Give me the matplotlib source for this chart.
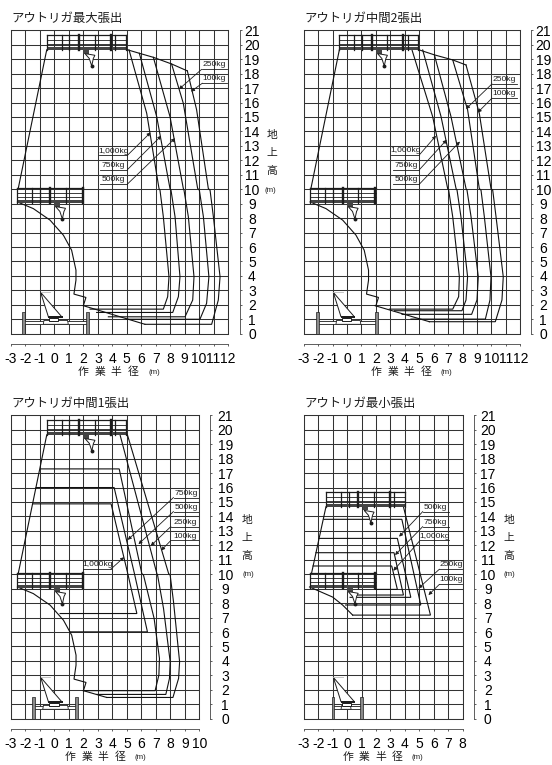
import matplotlib
matplotlib.use('Agg')
import matplotlib.pyplot as plt
from matplotlib.patches import Polygon, Rectangle

W, H = 552, 765
INK = '#1c1c1c'
GRID = '#333333'
CJK = ['Noto Sans CJK JP', 'DejaVu Sans']
plt.rcParams['font.family'] = ['Liberation Sans', 'DejaVu Sans']

TITLES = ['アウトリガ最大張出', 'アウトリガ中間2張出', 'アウトリガ中間1張出', 'アウトリガ最小張出']
X_MAX = [12, 12, 10, 8]
Y_MAX = 21
X_AXIS_LABEL = ['作', '業', '半', '径']
Y_AXIS_LABEL = ['地', '上', '高']
UNIT = '(m)'

# boundary shared by the boom positions
INNER_CURVE = [(-2.56, 9.12), (-1.46, 8.66), (-0.3, 7.86), (0.62, 6.82), (1.19, 5.78),
               (1.49, 4.4), (1.49, 3.71), (1.35, 2.74), (2.18, 2.51), (2.0, 1.94)]
INNER_CURVE_MIN = [(-2.6, 9.12), (-1.0, 8.42), (-0.3, 7.86), (0.39, 7.17)]

# panel 1: outrigger max
P1_LEFT = [(-0.53, 19.65), (-2.5, 10.05)]
P1_TOP = [(4.95, 19.68), (5.87, 19.41), (6.84, 19.13), (8.1, 18.67), (9.19, 18.19)]
P1_FLOOR = [(2.0, 1.94), (6.26, 0.65)]
P1_100 = [(9.19, 18.19), (9.83, 15.5), (10.64, 10.05), (10.76, 9.93), (10.99, 8.09), (11.45, 3.94),
          (11.33, 2.33), (10.87, 0.65), (6.26, 0.65)]
P1_250 = [(8.1, 18.67), (8.91, 15.95), (9.9, 10.06), (10.02, 9.93), (10.3, 8.09), (10.68, 3.94),
          (10.52, 2.1), (10.06, 1.0), (5.0, 1.0)]
P1_500 = [(6.84, 19.13), (7.99, 15.03), (8.91, 10.06), (8.96, 9.93), (9.26, 8.09), (9.65, 3.94),
          (9.56, 2.33), (9.03, 1.17), (3.73, 1.17)]
P1_750 = [(5.87, 19.41), (7.07, 15.03), (7.99, 10.05), (8.06, 9.93), (8.34, 8.09), (8.68, 3.94),
          (8.57, 2.56), (8.18, 1.47), (2.92, 1.47)]
P1_1000 = [(5.16, 19.64), (6.38, 15.26), (7.23, 10.05), (7.3, 9.93), (7.53, 8.09), (7.92, 3.94),
           (7.83, 2.56), (7.53, 1.7), (2.46, 1.7)]

# panel 2: outrigger middle 2
P2_LEFT = [(-0.53, 19.65), (-2.5, 10.05)]
P2_TOP = [(4.89, 19.68), (6.05, 19.3), (7.32, 18.95), (8.24, 18.6)]
P2_FLOOR = [(1.94, 1.94), (5.7, 0.83)]
P2_100 = [(8.24, 18.6), (9.16, 15.26), (9.97, 10.05), (10.09, 9.93), (10.32, 8.09), (10.82, 3.94),
          (10.73, 2.33), (10.27, 0.83), (5.7, 0.83)]
P2_250 = [(7.32, 18.95), (8.35, 15.5), (9.16, 10.05), (9.28, 9.93), (9.51, 8.09), (9.97, 3.94),
          (9.9, 2.33), (9.58, 1.01), (4.43, 1.01)]
P2_500 = [(6.05, 19.3), (7.2, 15.03), (8.24, 10.05), (8.31, 9.93), (8.59, 8.09), (9.09, 3.94),
          (9.0, 2.33), (8.63, 1.34), (3.81, 1.34)]
P2_750 = [(5.24, 19.64), (6.51, 15.03), (7.55, 10.05), (7.62, 9.93), (7.89, 8.09), (8.35, 3.94),
          (8.24, 2.33), (7.96, 1.59), (3.28, 1.59)]
P2_1000 = [(4.5, 19.64), (5.93, 15.03), (6.97, 10.05), (7.04, 9.93), (7.32, 8.09), (7.78, 3.94),
           (7.73, 2.56), (7.32, 1.7), (2.93, 1.7)]

# panel 3: outrigger middle 1
P3_LEFT = [(-0.53, 19.65), (-2.5, 10.05)]
P3_FLOOR = [(2.0, 1.94), (3.61, 1.47)]
P3_100 = [(5.04, 19.64), (7.88, 10.05), (7.99, 9.93), (8.22, 8.09), (8.64, 3.94), (8.57, 2.79),
          (8.18, 1.47), (3.61, 1.47)]
P3_250 = [(4.53, 19.64), (7.07, 10.05), (7.12, 9.93), (7.53, 7.63), (7.99, 3.94), (7.94, 2.79),
          (7.69, 1.68), (2.92, 1.68)]
P3_500 = [(-0.95, 17.29), (4.47, 17.29), (6.03, 10.05), (6.15, 9.93), (6.88, 6.94), (7.25, 4.17),
          (7.21, 3.02), (6.95, 1.94), (2.0, 1.94)]
P3_750 = [(-1.27, 16.0), (4.12, 16.0), (5.52, 10.05), (6.42, 6.01), (1.08, 6.01)]
P3_1000 = [(-1.46, 14.87), (3.91, 14.87), (5.06, 10.05), (5.69, 7.28), (0.39, 7.28)]

# panel 4: outrigger min
P4_LEFT = [(-1.46, 14.67), (-2.45, 10.1)]
P4_100 = [(3.9, 14.67), (5.77, 7.17), (0.39, 7.17)]
P4_250 = [(-1.6, 13.8), (3.79, 13.8), (5.1, 7.87), (-0.1, 7.87)]
P4_500 = [(-1.95, 12.48), (3.48, 12.48), (4.41, 8.4), (0.21, 8.4)]
P4_750 = [(-2.15, 11.49), (3.25, 11.49), (3.9, 8.56), (0.55, 8.56)]
P4_1000 = [(-2.35, 10.57), (3.09, 10.57), (3.48, 8.95), (1.96, 8.95)]

CURVES = [
    [INNER_CURVE, P1_LEFT, P1_TOP, P1_FLOOR, P1_100, P1_250, P1_500, P1_750, P1_1000],
    [INNER_CURVE, P2_LEFT, P2_TOP, P2_FLOOR, P2_100, P2_250, P2_500, P2_750, P2_1000],
    [INNER_CURVE, P3_LEFT, P3_FLOOR, P3_100, P3_250, P3_500, P3_750, P3_1000],
    [INNER_CURVE_MIN, P4_LEFT, P4_100, P4_250, P4_500, P4_750, P4_1000],
]

# load callouts: text, underline x0, x1, y, arrow tip x, y
CALLOUTS = [
    [('250kg', 10.18, 11.91, 18.3, 8.61, 16.92), ('100kg', 10.23, 11.91, 17.34, 9.44, 16.76),
     ('1,000kg', 3.08, 5.04, 12.34, 6.65, 13.93), ('750kg', 3.15, 5.04, 11.35, 7.39, 13.7),
     ('500kg', 3.15, 5.04, 10.35, 8.34, 13.53)],
    [('250kg', 10.04, 11.75, 17.29, 8.24, 15.56), ('100kg', 10.04, 11.75, 16.3, 9.05, 15.31),
     ('1,000kg', 3.05, 5.01, 12.38, 6.16, 13.7), ('750kg', 3.16, 5.01, 11.35, 6.9, 13.42),
     ('500kg', 3.16, 5.01, 10.35, 7.82, 13.3)],
    [('750kg', 8.22, 10.0, 15.31, 5.06, 12.38), ('500kg', 8.22, 10.0, 14.34, 5.8, 12.08),
     ('250kg', 8.04, 10.0, 13.3, 6.65, 11.97), ('100kg', 8.04, 10.0, 12.34, 7.37, 11.65),
     ('1,000kg', 2.0, 3.89, 10.35, 4.81, 11.18)],
    [('500kg', 5.24, 7.02, 14.34, 3.6, 12.6), ('750kg', 5.24, 7.02, 13.3, 3.32, 11.33),
     ('1,000kg', 5.05, 7.02, 12.34, 3.2, 10.24), ('250kg', 6.39, 7.96, 10.35, 4.94, 9.02),
     ('100kg', 6.39, 7.96, 9.3, 5.63, 8.56)],
]

# machine drawn under each chart
OUTRIGGER_X = [(-2.15, 2.27), (-2.05, 2.05), (-1.46, 1.54), (-0.97, 0.99)]
CARRIER_X = [(-0.77, 0.96), (-0.77, 0.96), (-0.81, 0.96), (-0.42, 0.28)]
UPPER_BASKET = [(-0.53, 19.64), (-0.53, 19.64), (-0.53, 19.64), (-1.46, 14.67)]
LOWER_BASKET = (-2.56, 9.05)
POSTS_FULL = [0, 1.04, 1.56, 3.33, 4.72, 5.48]
POSTS_FULL_HEAVY = [2.25, 4.44]
POSTS_SHORT = [0, 1.04, 1.56, 3.33]
POSTS_SHORT_HEAVY = [2.25, 4.52]
HOOK = [(2.64, -0.25), (3.33, -0.37), (3.22, -0.59), (3.11, -1.11), (2.94, -0.59)]
BOOM = [(-0.95, 2.86), (-0.42, 1.18), (0.5, 1.18)]

# frame of each chart in pixels: left, right, top, bottom, axis gap, tick label offset
FRAMES = [(11, 228, 30.3, 333.7, 12, 12), (303.7, 520.3, 30.3, 333.7, 11, 12),
          (11, 199.3, 415.3, 718.7, 11, 15), (303.7, 462.7, 415.3, 718.7, 11, 14)]
PX = 72 / 100


def draw_basket(ax, x0, y0, posts, heavy, width):
    ax.add_patch(Rectangle((x0, y0), width, 0.2, fc='#444444', ec='none', zorder=4))
    for rail, lw in [(1.04, 0.9), (0.66, 0.6), (0.4, 0.6)]:
        ax.plot([x0, x0 + width], [y0 + rail] * 2, color=INK, lw=lw, zorder=4)
    for p in posts:
        ax.plot([x0 + p] * 2, [y0, y0 + 1.04], color=INK, lw=0.9, zorder=4)
    for p in heavy:
        ax.plot([x0 + p] * 2, [y0, y0 + 1.04], color=INK, lw=1.7, zorder=4)
    ax.add_patch(Rectangle((x0 + 2.53, y0 - 0.25), 0.41, 0.25, fc='#444444', ec='none', zorder=4))
    ax.add_patch(Polygon([(x0 + a, y0 + b) for a, b in HOOK], fc='white', ec=INK, lw=0.7, zorder=4))
    ax.plot([x0 + HOOK[3][0]], [y0 + HOOK[3][1]], 'o', ms=1.8, color=INK, zorder=5)


def draw_machine(ax, posts, carrier):
    left, right = posts
    ax.add_patch(Rectangle((left, 0.65), right - left, 0.25, fc='white', ec=INK, lw=0.6, zorder=3))
    for x in posts:
        ax.add_patch(Rectangle((x - 0.09, 0), 0.18, 1.48, fc='#8a8a8a', ec=INK, lw=0.5, zorder=3))
    ax.add_patch(Polygon([(carrier[0], 0.65), (carrier[0] + 0.05, 0.92), (carrier[1] - 0.05, 0.92),
                          (carrier[1], 0.65)], fc='white', ec=INK, lw=0.6, zorder=3))
    ax.add_patch(Polygon(BOOM, fc='white', ec=INK, lw=0.7, zorder=4))
    ax.plot([BOOM[0][0], BOOM[0][0] + 0.65], [BOOM[0][1]] * 2, color='#bbbbbb', lw=0.6, zorder=4)
    ax.add_patch(Rectangle((-0.42, 1.12), 1.0, 0.12, fc=INK, ec='none', zorder=4))
    ax.add_patch(Rectangle((-0.37, 0.9), 0.65, 0.22, fc='white', ec=INK, lw=0.7, zorder=4))


def px_text(fig, x, y, s, size, **kw):
    fig.text(x / W, 1 - y / H, s, fontsize=size, ha='center', va='center', color=INK, **kw)


fig = plt.figure(figsize=(W / 100, H / 100), dpi=100)

for i, (l, r, t, b, gap, off) in enumerate(FRAMES):
    ax = fig.add_axes([l / W, 1 - b / H, (r - l) / W, (b - t) / H])
    ax.set_xlim(-3, X_MAX[i])
    ax.set_ylim(0, Y_MAX)
    ax.yaxis.tick_right()
    ax.set_xticks(range(-3, X_MAX[i] + 1))
    ax.set_yticks(range(0, Y_MAX + 1))
    ax.set_xticklabels([str(v) for v in range(-3, X_MAX[i] + 1)], fontsize=7.4, color=INK)
    ax.set_yticklabels([str(v) for v in range(0, Y_MAX + 1)], fontsize=7.4, color=INK)
    ax.grid(True, color=GRID, lw=0.75)
    ax.set_axisbelow(True)
    ax.spines['top'].set_color(GRID)
    ax.spines['left'].set_color(GRID)
    ax.spines['top'].set_linewidth(0.75)
    ax.spines['left'].set_linewidth(0.75)
    ax.spines['bottom'].set_position(('outward', 10.6 * PX))
    ax.spines['right'].set_position(('outward', gap * PX))
    ax.spines['bottom'].set_linewidth(0.6)
    ax.spines['right'].set_linewidth(0.6)
    ax.spines['bottom'].set_color('#444444')
    ax.spines['right'].set_color('#444444')
    ax.tick_params(axis='both', length=2 * PX, width=0.6, color='#444444')
    ax.tick_params(axis='x', pad=4.2)
    ax.tick_params(axis='y', pad=(off - 2) * PX)
    for label in ax.get_yticklabels():
        label.set_horizontalalignment('center')
    ax.axvline(X_MAX[i], color=GRID, lw=0.75, clip_on=False)
    ax.axhline(0, color=GRID, lw=0.75, clip_on=False)

    for curve in CURVES[i]:
        ax.plot([p[0] for p in curve], [p[1] for p in curve], color='#111111', lw=0.8,
                solid_joinstyle='miter', zorder=3)

    for text, x0, x1, y, tx, ty in CALLOUTS[i]:
        ax.plot([x0, x1], [y, y], color=INK, lw=0.6, zorder=5)
        ax.text((x0 + x1) / 2, y + 0.06, text, fontsize=6.1, color=INK, ha='center', va='bottom', zorder=5)
        start_x = x1 if tx > x1 else x0
        ax.annotate('', xy=(tx, ty), xytext=(start_x, y), zorder=5,
                    arrowprops=dict(arrowstyle='-|>', lw=0.6, color=INK, mutation_scale=5,
                                    shrinkA=0, shrinkB=0))

    draw_basket(ax, *UPPER_BASKET[i], POSTS_FULL, POSTS_FULL_HEAVY, 5.48)
    draw_basket(ax, *LOWER_BASKET, POSTS_SHORT, POSTS_SHORT_HEAVY, 4.56)
    draw_machine(ax, OUTRIGGER_X[i], CARRIER_X[i])

    title_y = t - 12.3
    fig.text((l + 0.3) / W, 1 - title_y / H, TITLES[i], fontsize=8.9, family=CJK, color=INK,
             ha='left', va='center')

# axis captions sit outside the frames, placed in pixels
X_CAPTION = [(83, 154, 372), (376, 446, 372), (70, 140, 757), (347.7, 417.7, 757)]
Y_CAPTION = [(272, 135, 270, 190), None, (247, 520, 248, 574), (509, 520, 509, 574)]

for x0, xm, y in X_CAPTION:
    for j, ch in enumerate(X_AXIS_LABEL):
        px_text(fig, x0 + 16.6 * j, y, ch, 7.8, family=CJK)
    px_text(fig, xm, y + 0.5, UNIT, 5.6)

for cap in Y_CAPTION:
    if cap is None:
        continue
    x, y, xm, ym = cap
    for j, ch in enumerate(Y_AXIS_LABEL):
        px_text(fig, x, y + 18 * j, ch, 7.8, family=CJK)
    px_text(fig, xm, ym, UNIT, 5.6)

fig.savefig('out.png', dpi=100)
